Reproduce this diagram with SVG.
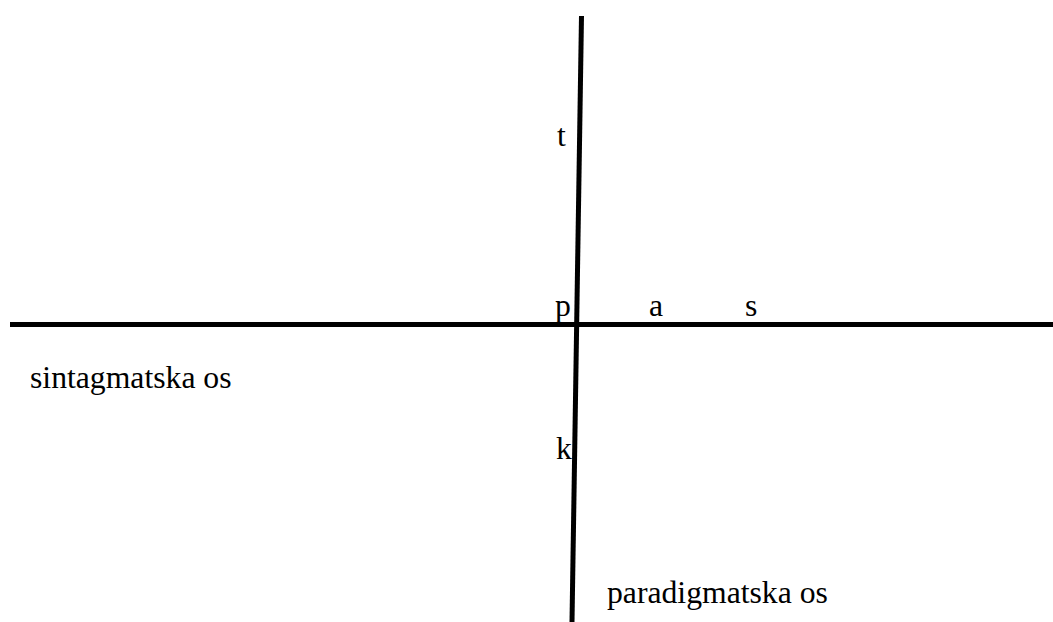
<svg xmlns="http://www.w3.org/2000/svg" width="1053" height="622" viewBox="0 0 1053 622">
<style>
.ax{stroke:#000;stroke-width:5;fill:none}
text{font-family:"Liberation Serif","Times New Roman",serif;font-size:31.7px;fill:#000}
</style>
<rect width="1053" height="622" fill="#fff"/>
<g id="connectors">
<line class="ax" x1="10" y1="324.5" x2="1053" y2="324.5"/>
<line class="ax" x1="581.5" y1="16" x2="572" y2="622"/>
</g>
<g id="label-t"><text x="557" y="146">t</text></g>
<g id="label-p"><text x="555" y="316">p</text></g>
<g id="label-a"><text x="649" y="316">a</text></g>
<g id="label-s"><text x="745" y="316">s</text></g>
<g id="label-k"><text x="556" y="459">k</text></g>
<g id="label-sint"><text x="30" y="388">sintagmatska os</text></g>
<g id="label-para"><text x="607" y="603">paradigmatska os</text></g>
</svg>
